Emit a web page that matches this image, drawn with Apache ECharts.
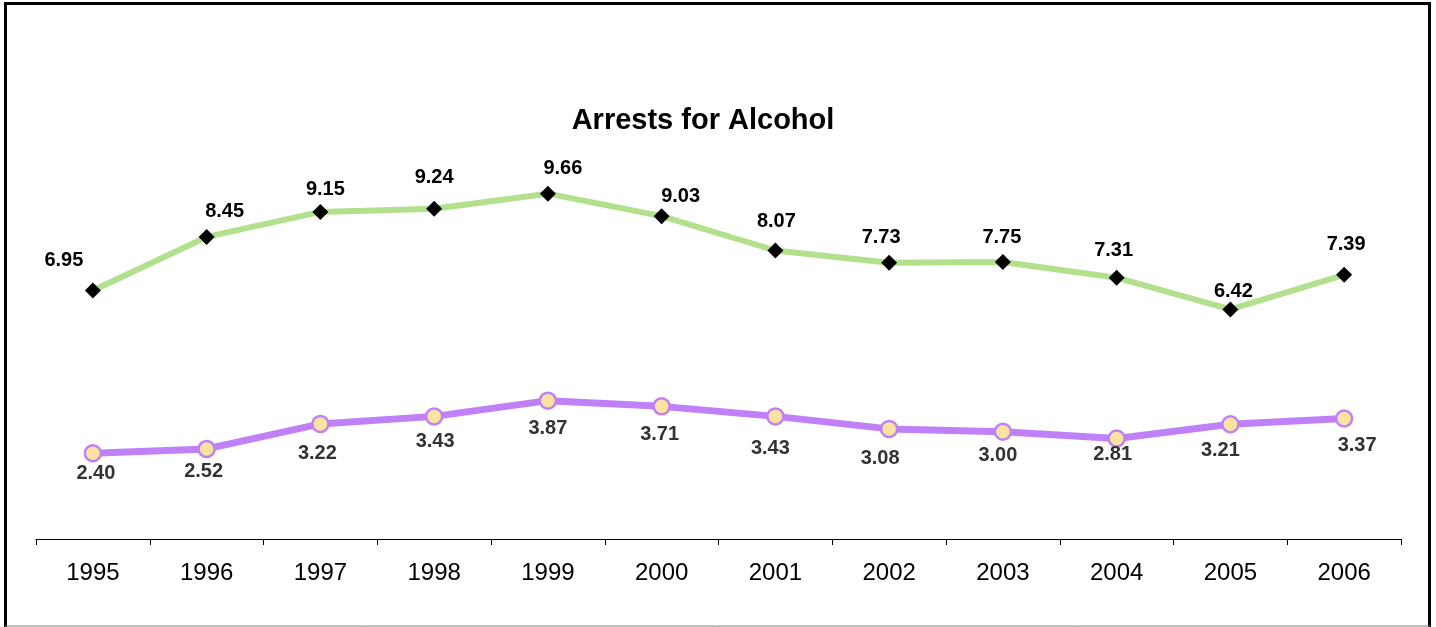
<!DOCTYPE html>
<html>
<head>
<meta charset="utf-8">
<script src="https://cdn.jsdelivr.net/npm/echarts@6/dist/echarts.min.js"></script>
<style>
html,body{margin:0;padding:0;background:#fff;}
#chart{width:1436px;height:627px;}
</style>
</head>
<body>
<div id="chart"></div>
<script>
const years = ['1995','1996','1997','1998','1999','2000','2001','2002','2003','2004','2005','2006'];
const upperSeries = [6.95, 8.45, 9.15, 9.24, 9.66, 9.03, 8.07, 7.73, 7.75, 7.31, 6.42, 7.39];
const lowerSeries = [2.40, 2.52, 3.22, 3.43, 3.87, 3.71, 3.43, 3.08, 3.00, 2.81, 3.21, 3.37];
const titleText = 'Arrests for Alcohol';

// label nudges relative to each marker (style only)
const upperLabelOffsets = [[-29,-30],[18,-25],[5,-22],[0,-31],[15,-25],[19,-20],[1,-29],[-8,-25],[-1,-24],[-3,-27],[3,-18],[2,-30]];
const lowerLabelOffsets = [[3,20],[-3,23],[-3,30],[1,25],[0,28],[-2,28],[-5,32],[-9,30],[-5,24],[-4,16],[-10,26],[13,27]];

const FONT = 'Liberation Sans, Arial, sans-serif';
const chart = echarts.init(document.getElementById('chart'));
chart.setOption({
  animation: false,
  backgroundColor: '#fff',
  title: {
    text: titleText,
    left: 698, top: 101, textAlign: 'center',
    textStyle: {fontFamily: FONT, fontSize: 29, fontWeight: 'bold', color: '#000'}
  },
  grid: {left: 36, right: 35, top: 110, bottom: 88},
  xAxis: {
    type: 'category',
    data: years,
    boundaryGap: true,
    axisLine: {lineStyle: {color: '#000', width: 1}},
    axisTick: {show: true, alignWithLabel: false, length: 6, inside: false, lineStyle: {color: '#000'}},
    axisLabel: {margin: 22, fontFamily: FONT, fontSize: 24, color: '#000'}
  },
  yAxis: {
    type: 'value', min: 0, max: 12, interval: 2,
    show: false, splitLine: {show: false}
  },
  series: [
    {
      type: 'line',
      data: upperSeries.map((v, i) => ({value: v, label: {offset: upperLabelOffsets[i]}})),
      lineStyle: {color: '#b3e08c', width: 6},
      itemStyle: {color: '#000', borderWidth: 0},
      symbol: 'diamond', symbolSize: [16, 16],
      label: {
        show: true, position: 'inside',
        formatter: p => p.value.toFixed(2),
        fontFamily: FONT, fontSize: 20, fontWeight: 'bold', color: '#000'
      },
      z: 3
    },
    {
      type: 'line',
      data: lowerSeries.map((v, i) => ({value: v, label: {offset: lowerLabelOffsets[i]}})),
      lineStyle: {color: '#c080f8', width: 7},
      itemStyle: {color: '#f8e4a0', borderColor: '#c080f8', borderWidth: 2.5},
      symbol: 'circle', symbolSize: 16,
      label: {
        show: true, position: 'inside',
        formatter: p => p.value.toFixed(2),
        fontFamily: FONT, fontSize: 20, fontWeight: 'bold', color: '#333'
      },
      z: 3
    }
  ],
  graphic: [
    {type: 'polyline', shape: {points: [[5.5, 627], [5.5, 3.5], [1429.5, 3.5], [1429.5, 627]]}, style: {stroke: '#000', lineWidth: 3, fill: null}},
    {type: 'line', shape: {x1: 5, y1: 626, x2: 1430, y2: 626}, style: {stroke: '#808080', lineWidth: 1}}
  ]
});
</script>
</body>
</html>
